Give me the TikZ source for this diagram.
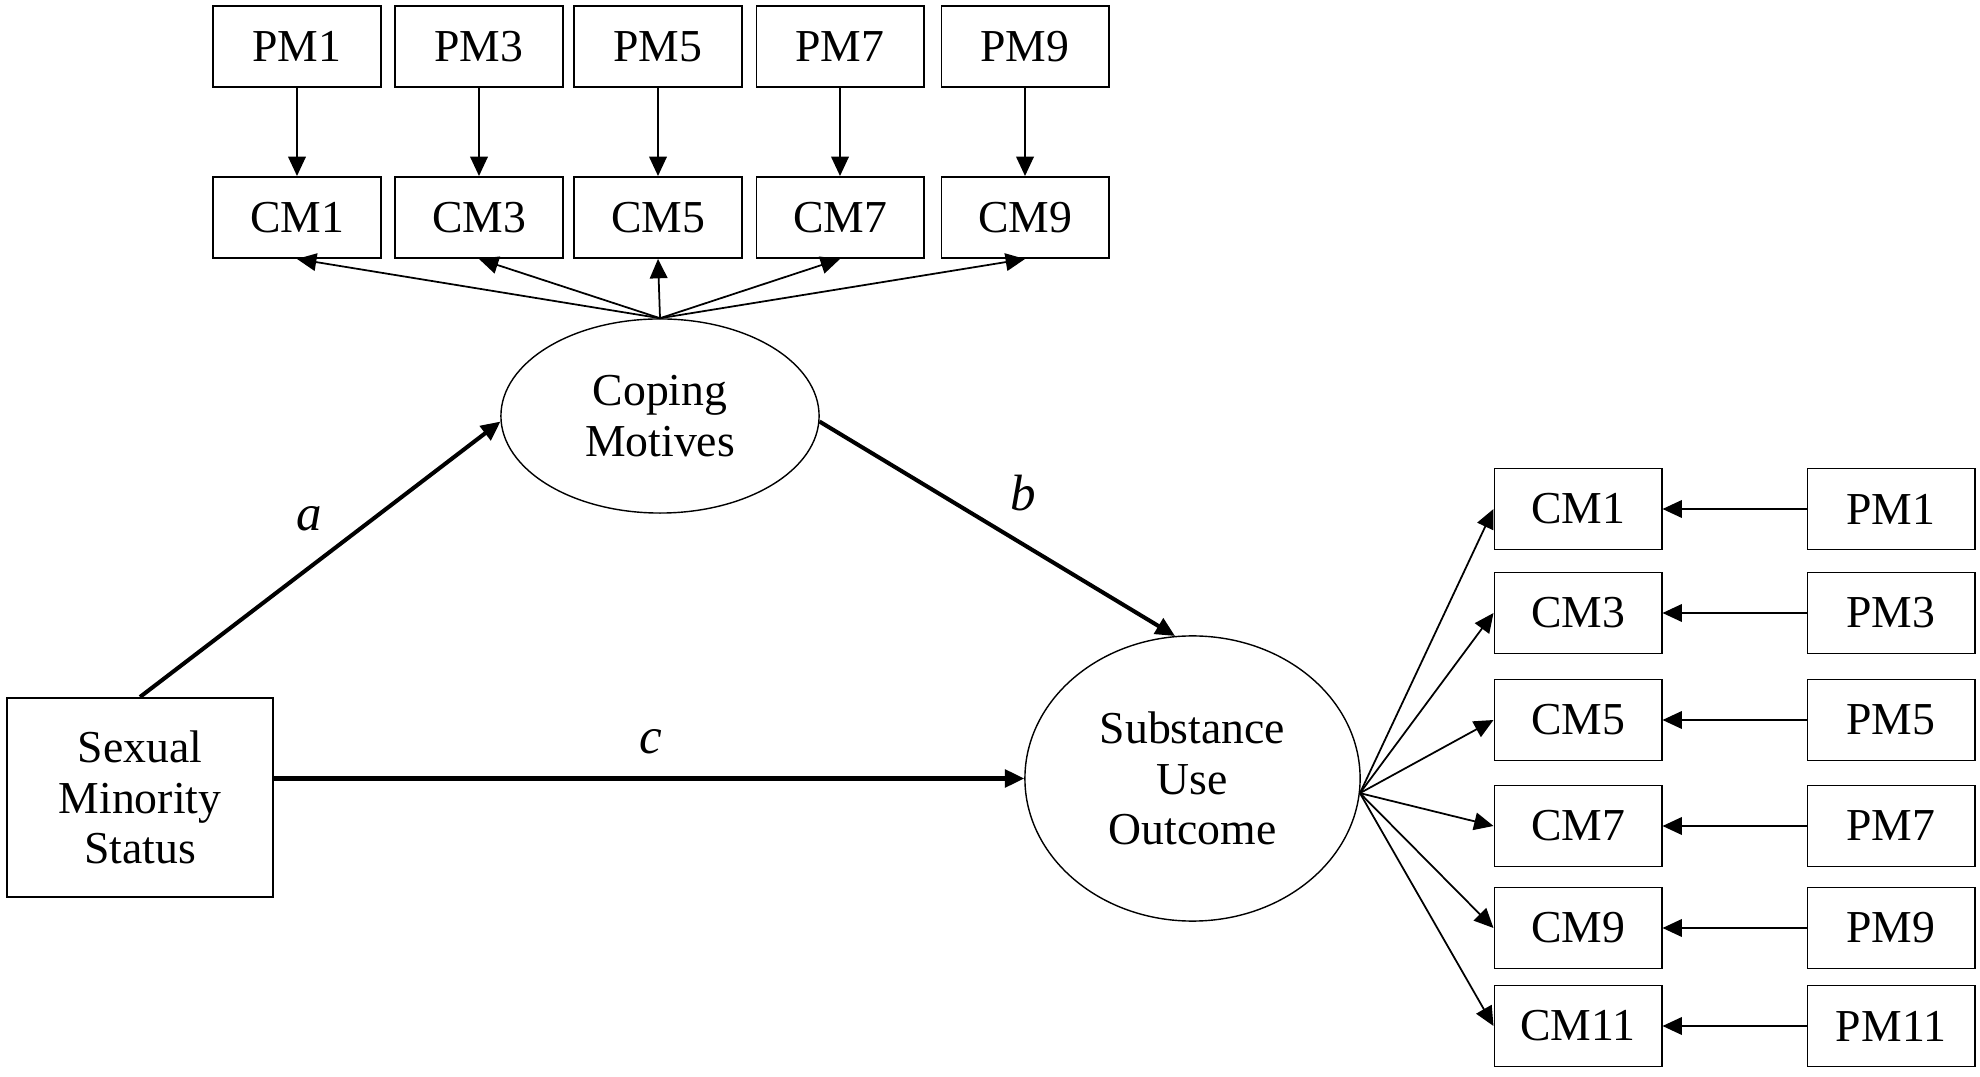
\documentclass[tikz,border=0pt]{standalone}
\usepackage{fontspec}
\setmainfont{Liberation Serif}
\usetikzlibrary{arrows.meta,shapes.geometric}

\begin{document}
\begin{tikzpicture}[x=0.01cm, y=-0.01cm,
  every node/.style={font=\fontsize{13}{14.3}\selectfont},
  ind/.style={draw, line width=0.55pt, minimum width=1.67cm, minimum height=0.81cm, inner sep=0pt},
  lat/.style={draw, ellipse, line width=0.4pt, align=center, inner sep=0pt},
  load/.style={line width=0.5pt, -{Triangle[length=5.5pt, width=5pt]}},
  effect/.style={line width=1.15pt, -{Triangle[length=5.5pt, width=5pt]}},
  lbl/.style={font=\fontsize{14.5}{16}\selectfont\itshape}]
\useasboundingbox (0,0) rectangle (1980,1077);

% top indicators
\node[ind] (pmT1) at (297,46.5) {PM1};
\node[ind] (pmT3) at (479,46.5) {PM3};
\node[ind] (pmT5) at (658,46.5) {PM5};
\node[ind] (pmT7) at (840,46.5) {PM7};
\node[ind] (pmT9) at (1025,46.5) {PM9};

\node[ind] (cmT1) at (297,217.5) {CM1};
\node[ind] (cmT3) at (479,217.5) {CM3};
\node[ind] (cmT5) at (658,217.5) {CM5};
\node[ind] (cmT7) at (840,217.5) {CM7};
\node[ind] (cmT9) at (1025,217.5) {CM9};

% right indicators
\node[ind] (cmR1) at (1578,509) {CM1};
\node[ind] (cmR3) at (1578,613) {CM3};
\node[ind] (cmR5) at (1578,720) {CM5};
\node[ind] (cmR7) at (1578,826) {CM7};
\node[ind] (cmR9) at (1578,928) {CM9};
\node[ind] (cmR11) at (1578,1026) {CM11};

\node[ind] (pmR1) at (1891,509) {PM1};
\node[ind] (pmR3) at (1891,613) {PM3};
\node[ind] (pmR5) at (1891,720) {PM5};
\node[ind] (pmR7) at (1891,826) {PM7};
\node[ind] (pmR9) at (1891,928) {PM9};
\node[ind] (pmR11) at (1891,1026) {PM11};

% structural part
\node[ind, align=center, minimum width=2.66cm, minimum height=1.99cm] (sms) at (140,797.5) {Sexual\\Minority\\Status};
\node[lat, minimum width=3.18cm, minimum height=1.94cm] (coping) at (660,416) {Coping\\Motives};
\node[lat, minimum width=3.35cm, minimum height=2.85cm] (suo) at (1192.5,778.5) {Substance\\Use\\Outcome};

\draw[load] (pmT1.south) -- (cmT1.north);
\draw[load] (pmT3.south) -- (cmT3.north);
\draw[load] (pmT5.south) -- (cmT5.north);
\draw[load] (pmT7.south) -- (cmT7.north);
\draw[load] (pmT9.south) -- (cmT9.north);

\draw[load] (coping.north) -- (cmT1.south);
\draw[load] (coping.north) -- (cmT3.south);
\draw[load] (coping.north) -- (cmT5.south);
\draw[load] (coping.north) -- (cmT7.south);
\draw[load] (coping.north) -- (cmT9.south);

\draw[load] (suo.-5) -- (cmR1.west);
\draw[load] (suo.-5) -- (cmR3.west);
\draw[load] (suo.-5) -- (cmR5.west);
\draw[load] (suo.-5) -- (cmR7.west);
\draw[load] (suo.-5) -- (cmR9.west);
\draw[load] (suo.-5) -- (cmR11.west);

\draw[load] (pmR1.west) -- (cmR1.east);
\draw[load] (pmR3.west) -- (cmR3.east);
\draw[load] (pmR5.west) -- (cmR5.east);
\draw[load] (pmR7.west) -- (cmR7.east);
\draw[load] (pmR9.west) -- (cmR9.east);
\draw[load] (pmR11.west) -- (cmR11.east);

\draw[effect] (sms.north) -- (coping.-178);
\draw[effect] (coping.-2) -- (suo.97);
\draw[effect] (sms.east |- suo.west) -- (suo.west);

\node[lbl] (la) at (309,519) {a};
\node[lbl] (lb) at (1023,493) {b};
\node[lbl] (lc) at (651,742) {c};
\end{tikzpicture}
\end{document}
